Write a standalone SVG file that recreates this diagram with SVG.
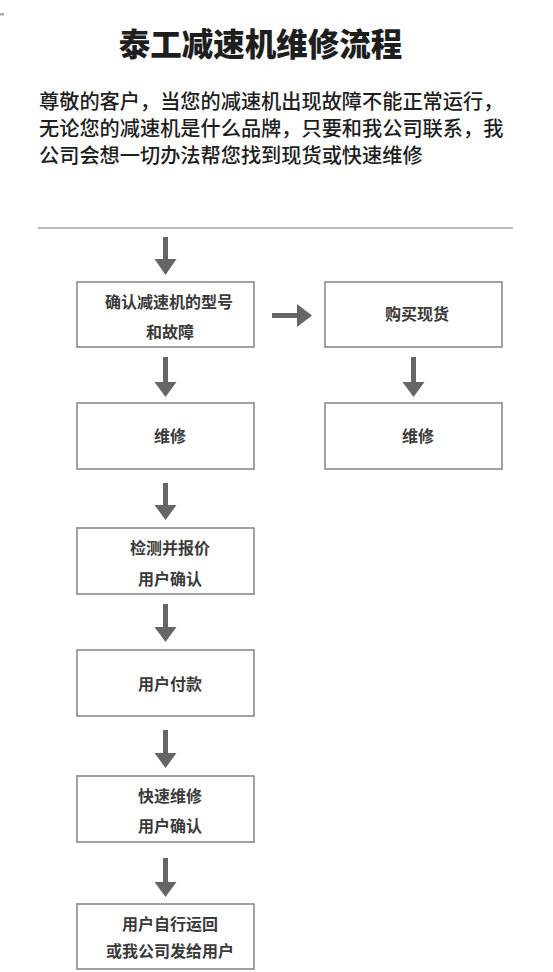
<svg xmlns="http://www.w3.org/2000/svg" width="553" height="972" viewBox="0 0 553 972">
<defs>
<style>
.title{font-family:"Noto Sans CJK SC","Noto Sans",sans-serif;font-size:31.5px;font-weight:900;fill:#1e1e1e;text-anchor:middle}
.para{font-family:"Noto Sans CJK SC","Noto Sans",sans-serif;font-size:20.2px;font-weight:500;fill:#1e1e1e}
.box{fill:#ffffff;stroke:#8a8a8a;stroke-width:1.6}
.lbl{font-family:"Noto Sans CJK SC","Noto Sans",sans-serif;font-size:16px;font-weight:bold;fill:#3a3a3a;text-anchor:middle}
.shaft{stroke:#666666;stroke-width:5;fill:none}
.head{fill:#666666}
</style>
</defs>
<rect width="553" height="972" fill="#ffffff"/>
<rect x="0" y="13" width="4" height="2.5" fill="#a9aabd"/>
<text class="title" x="260.5" y="56">泰工减速机维修流程</text>
<text class="para" x="39" y="109">尊敬的客户，当您的减速机出现故障不能正常运行，</text>
<text class="para" x="39" y="136">无论您的减速机是什么品牌，只要和我公司联系，我</text>
<text class="para" x="39" y="163">公司会想一切办法帮您找到现货或快速维修</text>
<line x1="38" y1="228" x2="513" y2="228" stroke="#bdbdbd" stroke-width="2"/>

<g id="connectors">
<line class="shaft" x1="165.5" y1="237" x2="165.5" y2="260"/><polygon class="head" points="154.5,259 176.5,259 165.5,275"/>
<line class="shaft" x1="272" y1="315.5" x2="298" y2="315.5"/><polygon class="head" points="297,304 297,327 312,315.5"/>
<line class="shaft" x1="165.5" y1="357" x2="165.5" y2="383"/><polygon class="head" points="154.5,382 176.5,382 165.5,397"/>
<line class="shaft" x1="413.5" y1="357" x2="413.5" y2="383"/><polygon class="head" points="402.5,382 424.5,382 413.5,397"/>
<line class="shaft" x1="165.5" y1="483" x2="165.5" y2="506"/><polygon class="head" points="154.5,505 176.5,505 165.5,520"/>
<line class="shaft" x1="165.5" y1="604" x2="165.5" y2="628"/><polygon class="head" points="154.5,627 176.5,627 165.5,642"/>
<line class="shaft" x1="165.5" y1="730" x2="165.5" y2="754"/><polygon class="head" points="154.5,753 176.5,753 165.5,768"/>
<line class="shaft" x1="165.5" y1="858" x2="165.5" y2="883"/><polygon class="head" points="154.5,882 176.5,882 165.5,897"/>
</g>

<g id="n1"><rect class="box" x="77" y="282" width="177" height="65"/><text class="lbl" x="169" y="308">确认减速机的型号</text><text class="lbl" x="170" y="338">和故障</text></g>
<g id="n2"><rect class="box" x="325" y="282" width="177" height="65"/><text class="lbl" x="417" y="320">购买现货</text></g>
<g id="n3"><rect class="box" x="77" y="403" width="177" height="66"/><text class="lbl" x="170" y="442">维修</text></g>
<g id="n4"><rect class="box" x="325" y="403" width="177" height="66"/><text class="lbl" x="418" y="442">维修</text></g>
<g id="n5"><rect class="box" x="77" y="528" width="177" height="66"/><text class="lbl" x="170" y="554">检测并报价</text><text class="lbl" x="170" y="585">用户确认</text></g>
<g id="n6"><rect class="box" x="77" y="650" width="177" height="66"/><text class="lbl" x="170" y="690">用户付款</text></g>
<g id="n7"><rect class="box" x="77" y="776" width="177" height="66"/><text class="lbl" x="170" y="802">快速维修</text><text class="lbl" x="170" y="832">用户确认</text></g>
<g id="n8"><rect class="box" x="77" y="904" width="177" height="65"/><text class="lbl" x="170" y="930">用户自行运回</text><text class="lbl" x="170" y="957">或我公司发给用户</text></g>
</svg>
